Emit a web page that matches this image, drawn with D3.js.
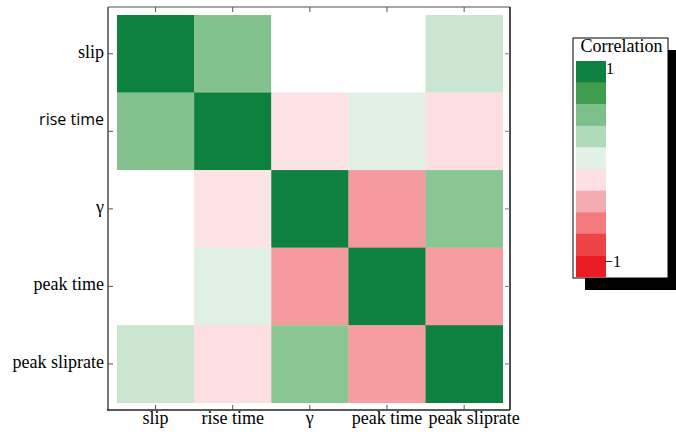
<!DOCTYPE html>
<html>
<head>
<meta charset="utf-8">
<style>
body { margin: 0; background: #fff; }
text { font-family: "Liberation Serif", "Times New Roman", serif; }
</style>
</head>
<body>
<svg width="676" height="432"></svg>
<script src="https://d3js.org/d3.v7.min.js"></script>
<script>

// variables, in row/column order
var names = ["slip", "rise time", "\u03b3", "peak time", "peak sliprate"];

// correlation matrix (symmetric)
var slipRow      = [1.00,  0.53,  0.00,  0.00,  0.22];
var riseRow      = [0.53,  1.00, -0.10,  0.12, -0.12];
var gammaRow     = [0.00, -0.10,  1.00, -0.41,  0.50];
var peakTimeRow  = [0.00,  0.12, -0.41,  1.00, -0.40];
var slipRateRow  = [0.22, -0.12,  0.50, -0.40,  1.00];
var matrix = [slipRow, riseRow, gammaRow, peakTimeRow, slipRateRow];

// legend swatches, top (1) to bottom (-1)
var legendColors = ["#0e8040", "#3f9e4e", "#7dbf88", "#b0d9b9", "#e3f1e7",
                    "#fde0e3", "#f5acb1", "#f47a7d", "#ef4446", "#ec1c24"];
var legendLabels = ["1", "\u22121"];

var svg = d3.select("svg");

// colour: legend swatches sampled at 1 .. -1, white at 0
var stops = d3.range(10).map(function(i) { return 1 - i * 2 / 9; });
var colDomain = stops.slice(0, 5).concat([0], stops.slice(5));
var colRange = legendColors.slice(0, 5).concat(["#ffffff"], legendColors.slice(5));
var color = d3.scaleLinear().domain(colDomain).range(colRange).clamp(true);

var frame = {left: 108, right: 510, top: 7, bottom: 410};

var x = d3.scaleBand().domain(names).range([117, 502.7]);
var y = d3.scaleBand().domain(names).range([15, 402.7]);

var cells = [];
matrix.forEach(function(row, i) {
  row.forEach(function(v, j) { cells.push({r: names[i], c: names[j], v: v}); });
});

svg.append("g")
  .selectAll("rect")
  .data(cells)
  .enter().append("rect")
    .attr("x", function(d) { return x(d.c); })
    .attr("y", function(d) { return y(d.r); })
    .attr("width", x.bandwidth() + 0.3)
    .attr("height", y.bandwidth() + 0.3)
    .attr("fill", function(d) { return color(d.v); });

// frame: grey top/left, black right/bottom
svg.append("line").attr("x1", frame.left).attr("x2", frame.right)
  .attr("y1", frame.top).attr("y2", frame.top).attr("stroke", "#888").attr("stroke-width", 1.5);
svg.append("line").attr("x1", frame.left).attr("x2", frame.left)
  .attr("y1", frame.top).attr("y2", frame.bottom).attr("stroke", "#777").attr("stroke-width", 2);
svg.append("line").attr("x1", frame.right).attr("x2", frame.right)
  .attr("y1", frame.top).attr("y2", frame.bottom).attr("stroke", "#111").attr("stroke-width", 1.5);
svg.append("line").attr("x1", frame.left - 1).attr("x2", frame.right)
  .attr("y1", frame.bottom).attr("y2", frame.bottom).attr("stroke", "#222").attr("stroke-width", 1.5);

// inward ticks on all four sides
var tk = 5;
names.forEach(function(n) {
  var cx = x(n) + x.bandwidth() / 2, cy = y(n) + y.bandwidth() / 2;
  svg.append("line").attr("x1", cx).attr("x2", cx).attr("y1", frame.top).attr("y2", frame.top + tk).attr("stroke", "#555");
  svg.append("line").attr("x1", cx).attr("x2", cx).attr("y1", frame.bottom - tk).attr("y2", frame.bottom).attr("stroke", "#555");
  svg.append("line").attr("x1", frame.left).attr("x2", frame.left + tk).attr("y1", cy).attr("y2", cy).attr("stroke", "#555");
  svg.append("line").attr("x1", frame.right - tk).attr("x2", frame.right).attr("y1", cy).attr("y2", cy).attr("stroke", "#777");
});

// bottom labels (the last one sits a little right of its tick in the original)
svg.append("g").selectAll("text")
  .data(names)
  .enter().append("text")
    .attr("x", function(d, i) { return x(d) + x.bandwidth() / 2 + (i == names.length - 1 ? 10 : 0); })
    .attr("y", 424)
    .attr("text-anchor", "middle")
    .attr("font-size", 18)
    .text(function(d) { return d; });

// left labels (the "rise time" one is set in a sans face, raised, in the original)
svg.append("g").selectAll("text")
  .data(names)
  .enter().append("text")
    .attr("x", 104)
    .attr("y", function(d) { return y(d) + y.bandwidth() / 2 + (d == "rise time" ? -6 : 4); })
    .attr("text-anchor", "end")
    .attr("font-size", function(d) { return d == "rise time" ? 16 : 18; })
    .style("font-family", function(d) { return d == "rise time" ? "'Open Sans', sans-serif" : null; })
    .text(function(d) { return d; });

// legend
var lg = {x: 573, y: 38, w: 95, h: 240};
svg.append("rect").attr("x", lg.x + 12).attr("y", lg.y + 12)
  .attr("width", lg.w).attr("height", lg.h).attr("fill", "#000");
svg.append("rect").attr("x", lg.x).attr("y", lg.y)
  .attr("width", lg.w).attr("height", lg.h).attr("fill", "#fff")
  .attr("stroke", "#000").attr("stroke-width", 1);
svg.append("text").attr("x", lg.x + lg.w / 2 + 1).attr("y", 52)
  .attr("text-anchor", "middle").attr("font-size", 18).text("Correlation");

var sw = d3.scaleBand().domain(d3.range(legendColors.length)).range([61, 277]);
svg.append("g").selectAll("rect")
  .data(legendColors)
  .enter().append("rect")
    .attr("x", 576)
    .attr("y", function(d, i) { return sw(i); })
    .attr("width", 30)
    .attr("height", sw.bandwidth() + 0.3)
    .attr("fill", function(d) { return d; });

svg.append("text").attr("x", 606).attr("y", sw(0) + 13)
  .attr("font-size", 16).text(legendLabels[0]);
svg.append("text").attr("x", 604).attr("y", sw(legendColors.length - 1) + 12)
  .attr("font-size", 16).attr("textLength", 17).attr("lengthAdjust", "spacing")
  .text(legendLabels[1]);

</script>
</body>
</html>
